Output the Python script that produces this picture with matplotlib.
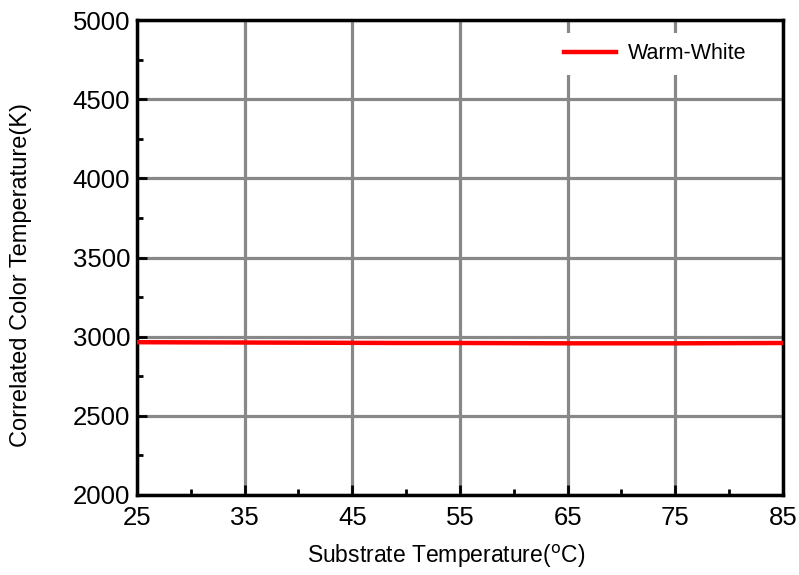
import matplotlib
matplotlib.use('Agg')
import matplotlib.pyplot as plt
from matplotlib.ticker import MultipleLocator

plt.rcParams['font.family'] = ['Liberation Sans', 'DejaVu Sans']

substrate_temp = [25, 30, 35, 40, 45, 50, 55, 60, 65, 70, 75, 80, 85]
cct_warm_white = [2965, 2964, 2963, 2962, 2961, 2960, 2960, 2959, 2958, 2958, 2958, 2959, 2960]
x_ticks = [25, 35, 45, 55, 65, 75, 85]
y_ticks = [2000, 2500, 3000, 3500, 4000, 4500, 5000]

fig = plt.figure(figsize=(7.99, 5.75), dpi=100)
ax = fig.add_axes([137 / 799, 80 / 575, 646 / 799, 475 / 575])

ax.plot(substrate_temp, cct_warm_white, color='#ff0000', linewidth=3.2, label='Warm-White', zorder=3)

ax.set_xlim(25, 85)
ax.set_ylim(2000, 5000)
ax.set_xticks(x_ticks)
ax.set_yticks(y_ticks)
ax.xaxis.set_minor_locator(MultipleLocator(5))
ax.yaxis.set_minor_locator(MultipleLocator(250))
ax.tick_params(which='major', direction='in', length=7, width=2, labelsize=18.5)
ax.tick_params(axis='x', which='major', pad=8)
ax.tick_params(axis='y', which='major', pad=5)
ax.tick_params(which='minor', direction='in', length=4, width=2)
ax.tick_params(top=False, right=False, which='both')
ax.grid(which='major', color='#888888', linewidth=2.3)
ax.set_axisbelow(True)
for s in ax.spines.values():
    s.set_linewidth(2.5)

ax.set_xlabel('Substrate Temperature($^{\\mathrm{o}}$C)', fontsize=16.5)
ax.set_ylabel('Correlated Color Temperature(K)', fontsize=17)
# labels sit a bit off-centre in the original
ax.xaxis.set_label_coords(0.478, -0.10)
ax.yaxis.set_label_coords(-0.163, 0.463)

leg = ax.legend(loc='upper right', fontsize=15.5, frameon=True, fancybox=False,
                handlelength=2.4, handletextpad=0.55, borderpad=0.5,
                bbox_to_anchor=(0.976, 0.996))
leg.get_frame().set_edgecolor('none')
leg.get_frame().set_facecolor('white')
leg.get_frame().set_alpha(1)

fig.savefig('out.png', dpi=100)
